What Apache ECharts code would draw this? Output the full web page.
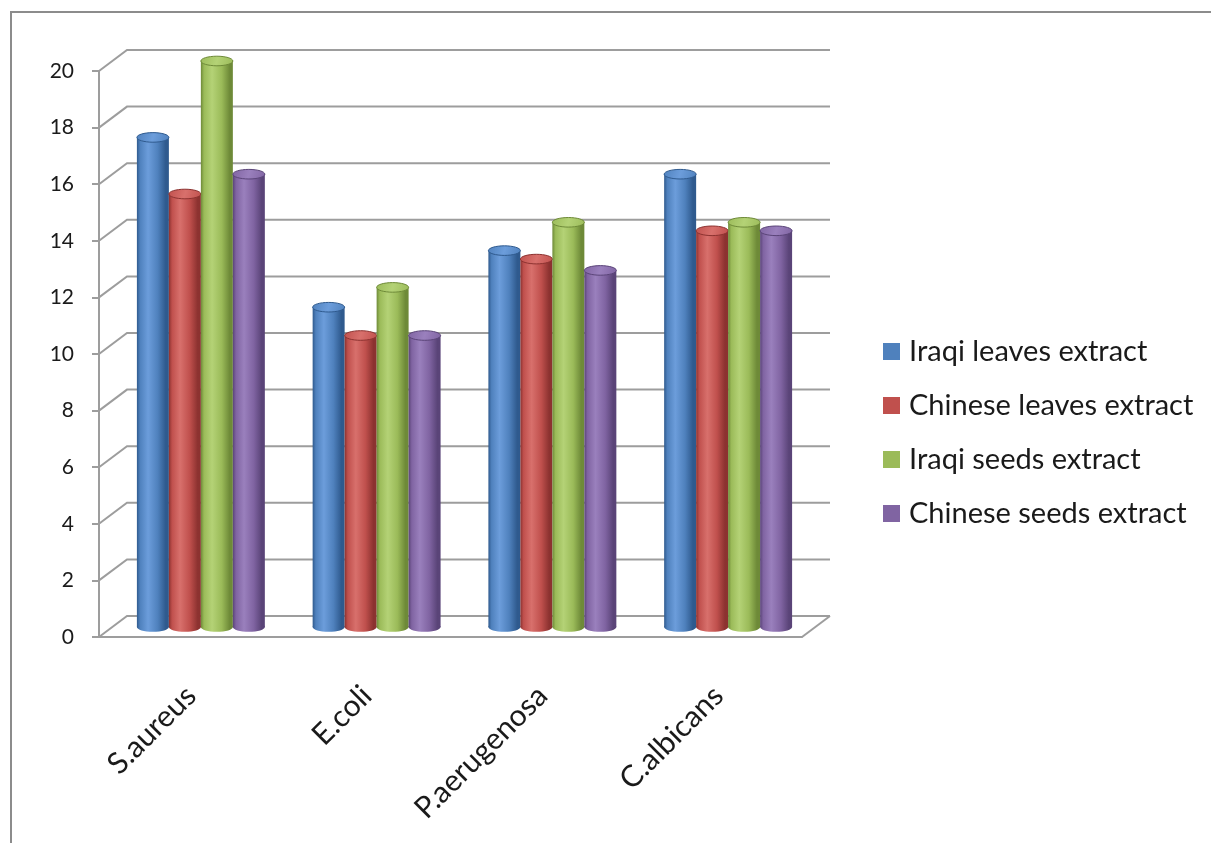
<!DOCTYPE html>
<html>
<head>
<meta charset="utf-8">
<script src="https://cdn.jsdelivr.net/npm/echarts@6/dist/echarts.min.js"></script>
<style>
html, body { margin: 0; padding: 0; background: #fff; }
#chart { width: 1211px; height: 843px; }
</style>
</head>
<body>
<div id="chart"></div>
<script>
var categories = ['S.aureus', 'E.coli', 'P.aerugenosa', 'C.albicans'];
var seriesNames = ['Iraqi leaves extract', 'Chinese leaves extract', 'Iraqi seeds extract', 'Chinese seeds extract'];
var iraqiLeaves = [17.3, 11.3, 13.3, 16];
var chineseLeaves = [15.3, 10.3, 13, 14];
var iraqiSeeds = [20, 12, 14.3, 14.3];
var chineseSeeds = [16, 10.3, 12.6, 14];
var yTicks = [0, 2, 4, 6, 8, 10, 12, 14, 16, 18, 20];

var palette = [
    { base: '#4f81bd', light: '#6c9ddb', dark: '#2f5a8e' },
    { base: '#c0504d', light: '#d8706c', dark: '#8c3230' },
    { base: '#9bbb59', light: '#b4d276', dark: '#6e8a38' },
    { base: '#8064a2', light: '#9a80bd', dark: '#5a4478' }
];
var depthX = 28, depthY = -21;
var gridColor = '#9d9d9d';

var myChart = echarts.init(document.getElementById('chart'));

function bodyFill(c) {
    return new echarts.graphic.LinearGradient(0, 0, 1, 0, [
        { offset: 0, color: c.dark },
        { offset: 0.1, color: c.base },
        { offset: 0.35, color: c.light },
        { offset: 0.65, color: c.base },
        { offset: 0.9, color: c.dark },
        { offset: 1, color: c.dark }
    ]);
}

function barRenderer(k) {
    var c = palette[k];
    return function (params, api) {
        var ci = api.value(0), v = api.value(1);
        var top = api.coord([ci, v]);
        var base = api.coord([ci, 0]);
        var w = api.size([1, 0])[0] * 0.182;
        var cx = top[0] + (k - 1.5) * w;
        var rx = w / 2, ry = w * 0.15;
        return {
            type: 'group',
            children: [
                { type: 'ellipse', shape: { cx: cx, cy: base[1], rx: rx, ry: ry }, style: { fill: bodyFill(c) } },
                { type: 'rect', shape: { x: cx - rx, y: top[1], width: w, height: base[1] - top[1] }, style: { fill: bodyFill(c) } },
                { type: 'ellipse', shape: { cx: cx, cy: top[1], rx: rx, ry: ry },
                  style: { fill: new echarts.graphic.LinearGradient(0, 0, 1, 1, [
                      { offset: 0, color: c.base }, { offset: 0.5, color: c.light }, { offset: 1, color: c.base }
                  ]), stroke: c.dark, lineWidth: 1 } }
            ]
        };
    };
}

function wallRenderer(params, api) {
    var cs = params.coordSys;
    var v = api.value(1);
    var y = api.coord([0, v])[1];
    var pts = [[cs.x, y], [cs.x + depthX, y + depthY], [cs.x + cs.width + depthX, y + depthY]];
    var children = [{ type: 'polyline', shape: { points: pts }, style: { stroke: gridColor, lineWidth: 2, fill: null } }];
    if (v === 0) {
        children.push({ type: 'line', shape: { x1: cs.x + cs.width, y1: y, x2: cs.x + cs.width + depthX, y2: y + depthY },
            style: { stroke: gridColor, lineWidth: 2 } });
    }
    return { type: 'group', children: children };
}

var allValues = [iraqiLeaves, chineseLeaves, iraqiSeeds, chineseSeeds];
var series = [{
    name: 'walls',
    type: 'custom',
    xAxisIndex: 0,
    yAxisIndex: 0,
    z: 1,
    silent: true,
    renderItem: wallRenderer,
    encode: { x: 0, y: 1 },
    data: yTicks.map(function (t) { return [0, t]; })
}];
allValues.forEach(function (vals, k) {
    series.push({
        name: seriesNames[k],
        type: 'custom',
        xAxisIndex: 1,
        yAxisIndex: 1,
        z: 5,
        itemStyle: { color: palette[k].base },
        renderItem: barRenderer(k),
        encode: { x: 0, y: 1 },
        data: vals.map(function (v, i) { return [i, v]; })
    });
});

option = {
    animation: false,
    backgroundColor: '#fff',
    color: palette.map(function (c) { return c.base; }),
    graphic: [{
        type: 'rect',
        z: 0,
        shape: { x: 11, y: 12, width: 1400, height: 1000 },
        style: { fill: 'none', stroke: '#8c8c8c', lineWidth: 2 }
    }],
    legend: {
        orient: 'vertical',
        left: 878,
        top: 332,
        icon: 'rect',
        itemWidth: 17,
        itemHeight: 17,
        itemGap: 25,
        data: seriesNames,
        textStyle: { fontFamily: 'Lato', fontSize: 29, lineHeight: 26, color: '#1a1a1a', padding: [0, 0, 0, 4] }
    },
    grid: [
        { left: 99, top: 71, width: 703, height: 566 },
        { left: 113, top: 61, width: 703, height: 566 }
    ],
    xAxis: [{
        type: 'category',
        gridIndex: 0,
        data: categories,
        axisLine: { lineStyle: { color: gridColor, width: 2 } },
        axisTick: { length: 10, lineStyle: { color: gridColor, width: 2 } },
        axisLabel: { show: false }
    }, {
        type: 'category',
        gridIndex: 1,
        data: categories,
        axisLine: { show: false },
        axisTick: { show: false },
        axisLabel: { rotate: 45, margin: 54, padding: [0, 14, 0, 0], fontFamily: 'Lato', fontSize: 30, color: '#1a1a1a', interval: 0 }
    }],
    yAxis: [{
        type: 'value',
        gridIndex: 0,
        min: 0,
        max: 20,
        interval: 2,
        axisLine: { show: true, lineStyle: { color: gridColor, width: 2 } },
        axisTick: { show: true, length: 7, lineStyle: { color: gridColor, width: 2 } },
        splitLine: { show: false },
        axisLabel: { margin: 25, fontFamily: 'Lato', fontSize: 21, color: '#1a1a1a' }
    }, {
        type: 'value',
        gridIndex: 1,
        min: 0,
        max: 20,
        interval: 2,
        show: false,
        splitLine: { show: false }
    }],
    series: series
};

myChart.setOption(option);
</script>
</body>
</html>
